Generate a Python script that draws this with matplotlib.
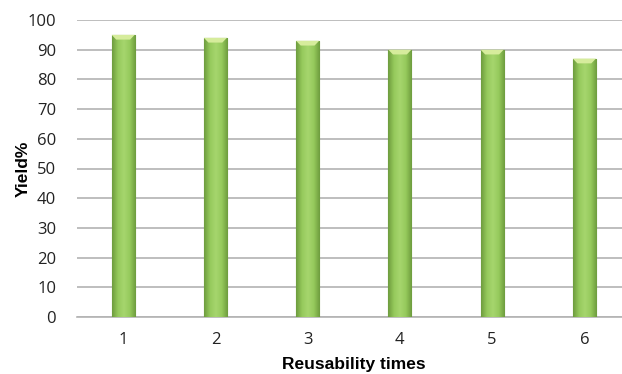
import numpy as np
import matplotlib.pyplot as plt
from matplotlib.colors import LinearSegmentedColormap

# data
runs = ['1', '2', '3', '4', '5', '6']
yields = [95, 94, 93, 90, 90, 87]

plt.rcParams['font.family'] = ['Open Sans', 'DejaVu Sans']

fig = plt.figure(figsize=(6.22, 3.74), dpi=100)
# plot area runs a little past the right edge, like the cropped original
ax = fig.add_axes([77 / 622, 57 / 374, 553.5 / 622, 297 / 374])

x = np.arange(1, len(runs) + 1)
bars = ax.bar(x, yields, width=0.25, color='#8cc152', edgecolor='#5f8a35',
              linewidth=0.8, zorder=3)

# horizontal shading on each bar: darker edges, lighter middle
shade = LinearSegmentedColormap.from_list(
    'bar', ['#6e9c3e', '#96ca5c', '#a6d66e', '#96ca5c', '#6e9c3e'])
grad = np.linspace(0, 1, 64).reshape(1, -1)
for b in bars:
    x0, w, h = b.get_x(), b.get_width(), b.get_height()
    im = ax.imshow(grad, cmap=shade, aspect='auto', zorder=3.5,
                   extent=(x0, x0 + w, 0, h), interpolation='bicubic')
    im.set_clip_path(b)
    # light bevel on top
    ax.fill([x0, x0 + w, x0 + w * 0.8, x0 + w * 0.2],
            [h, h, h - 1.6, h - 1.6], color='#d6ec9c', lw=0, zorder=4)

ax.set_xlim(0.5, 6.5)
ax.set_ylim(0, 100)
ax.set_yticks(range(0, 101, 10))
ax.set_xticks(x)
ax.set_xticklabels(runs)
ax.yaxis.grid(True, color='#b3b3b3', linewidth=1.2, zorder=0)
ax.set_axisbelow(True)
for s in ['top', 'right', 'left']:
    ax.spines[s].set_visible(False)
ax.spines['bottom'].set_color('#b3b3b3')
ax.spines['bottom'].set_linewidth(1.2)
ax.tick_params(axis='both', length=0, labelsize=12, colors='#222222')
ax.tick_params(axis='y', pad=15)
ax.tick_params(axis='x', pad=11)

ax.set_xlabel('Reusability times', fontsize=12.5, fontweight='bold',
              family=['Liberation Sans', 'DejaVu Sans'], labelpad=6)
ax.set_ylabel('Yield%', fontsize=12.5, fontweight='bold',
              family=['Liberation Sans', 'DejaVu Sans'], labelpad=-2)

fig.savefig('out.png', dpi=100)
